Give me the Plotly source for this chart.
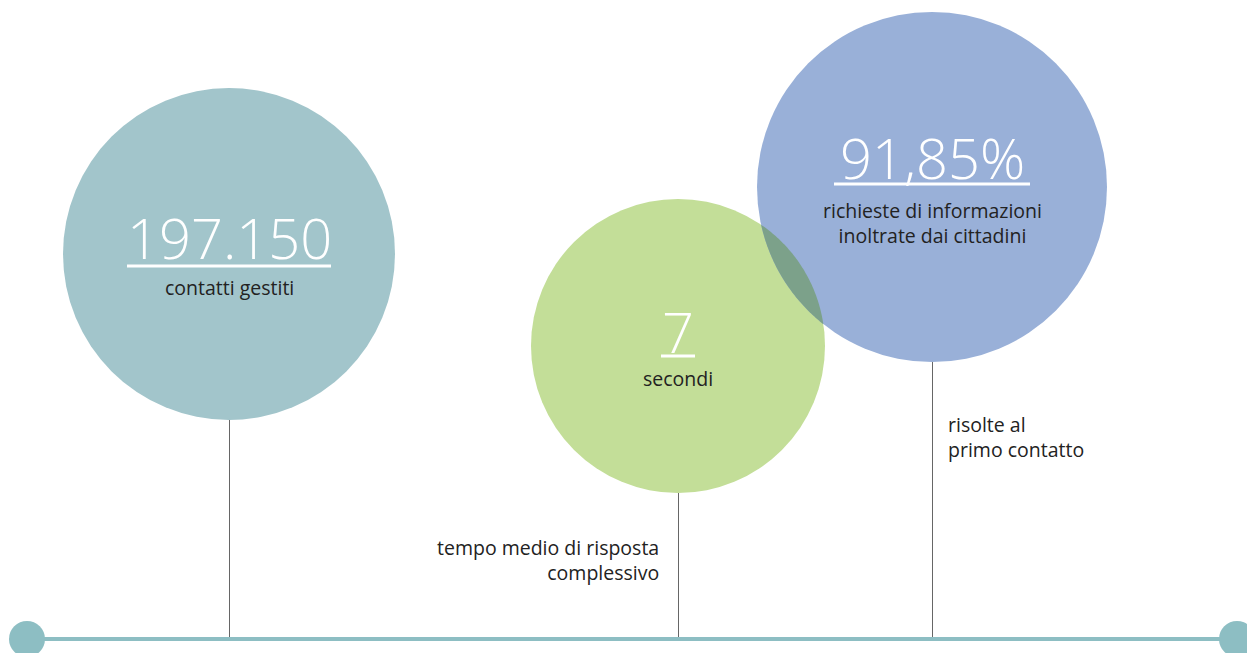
import numpy as np
import plotly.graph_objects as go

# ---- data ----
values = ["197.150", "7", "91,85%"]
inner_labels = ["contatti gestiti", "secondi", "richieste di informazioni<br>inoltrate dai cittadini"]
outer_labels = ["", "tempo medio di risposta<br>complessivo", "risolte al<br>primo contatto"]

# ---- layout / style (pixel space) ----
W, H = 1255, 653
OFF = 8  # default page body margin
circles = [  # cx, cy, r
    (229, 254, 166),
    (678, 346, 147),
    (932, 187, 175),
]
colors = ["#a2c5cb", "#c3de98", "#99b0d8"]
overlap_color = "#7ca18a"
base_y = 639
base_color = "#8dbec3"
num_font = dict(family="Open Sans", size=56, color="white", weight=300)
lab_font = dict(family="Open Sans", size=19.5, color="#222222")

fig = go.Figure()
shapes = []
annotations = []

for (cx, cy, r), c in zip(circles, colors):
    shapes.append(dict(type="circle", xref="x", yref="y", x0=cx - r, x1=cx + r,
                       y0=cy - r, y1=cy + r, fillcolor=c, line=dict(width=0), layer="below"))

# overlap lens between circle 2 and 3
(x1, y1, r1), (x2, y2, r2) = circles[1], circles[2]
d = np.hypot(x2 - x1, y2 - y1)
a = (r1**2 - r2**2 + d**2) / (2 * d)
h = np.sqrt(r1**2 - a**2)
ux, uy = (x2 - x1) / d, (y2 - y1) / d
px, py = x1 + a * ux, y1 + a * uy
pA = (px - h * uy, py + h * ux)
pB = (px + h * uy, py - h * ux)

def arc(cx, cy, r, p, q, n=60):
    t0 = np.arctan2(p[1] - cy, p[0] - cx)
    t1 = np.arctan2(q[1] - cy, q[0] - cx)
    dt = (t1 - t0 + np.pi) % (2 * np.pi) - np.pi
    t = np.linspace(t0, t0 + dt, n)
    return cx + r * np.cos(t), cy + r * np.sin(t)

ax1, ay1 = arc(x1, y1, r1, pA, pB)
ax2, ay2 = arc(x2, y2, r2, pB, pA)
lx = np.concatenate([ax1, ax2])
ly = np.concatenate([ay1, ay2])
path = "M " + " L ".join(f"{x:.2f},{y:.2f}" for x, y in zip(lx, ly)) + " Z"
shapes.append(dict(type="path", xref="x", yref="y", path=path, fillcolor=overlap_color,
                   line=dict(width=0), layer="below"))

for cx, cy, r in circles:
    shapes.append(dict(type="line", xref="x", yref="y", x0=cx + 0.5, x1=cx + 0.5, y0=cy + r, y1=base_y,
                       line=dict(color="#666666", width=1), layer="below"))

shapes.append(dict(type="line", xref="x", yref="y", x0=28, x1=1237, y0=base_y, y1=base_y,
                   line=dict(color=base_color, width=4), layer="below"))
for ex in (27, 1237):
    shapes.append(dict(type="circle", xref="x", yref="y", x0=ex - 18, x1=ex + 18,
                       y0=base_y - 18, y1=base_y + 18, fillcolor=base_color,
                       line=dict(width=0), layer="below"))

num_y = [237, 331, 157]
ul = [(127, 331, 266), (661, 695, 356), (834, 1030, 184)]
lab_y = [287, 378, 223]
for i, (cx, cy, r) in enumerate(circles):
    annotations.append(dict(x=cx, y=num_y[i], xref="x", yref="y", text=values[i],
                            showarrow=False, font=num_font, xanchor="center", yanchor="middle"))
    u0, u1, uy_ = ul[i]
    shapes.append(dict(type="line", xref="x", yref="y", x0=u0, x1=u1, y0=uy_, y1=uy_,
                       line=dict(color="white", width=3)))
    annotations.append(dict(x=cx, y=lab_y[i], xref="x", yref="y", text=inner_labels[i],
                            showarrow=False, font=lab_font, xanchor="center", yanchor="middle"))

annotations.append(dict(x=661, y=560, xref="x", yref="y", text=outer_labels[1], showarrow=False,
                        font=lab_font, xanchor="right", yanchor="middle", align="right"))
annotations.append(dict(x=946, y=437, xref="x", yref="y", text=outer_labels[2], showarrow=False,
                        font=lab_font, xanchor="left", yanchor="middle", align="left"))

fig.update_layout(
    width=W - OFF, height=H - OFF,
    margin=dict(l=0, r=0, t=0, b=0),
    paper_bgcolor="white", plot_bgcolor="white",
    xaxis=dict(range=[OFF, W], visible=False, fixedrange=True),
    yaxis=dict(range=[H, OFF], visible=False, fixedrange=True),
    shapes=shapes, annotations=annotations, showlegend=False,
)
fig.write_html("out.html", config=dict(displayModeBar=False))
